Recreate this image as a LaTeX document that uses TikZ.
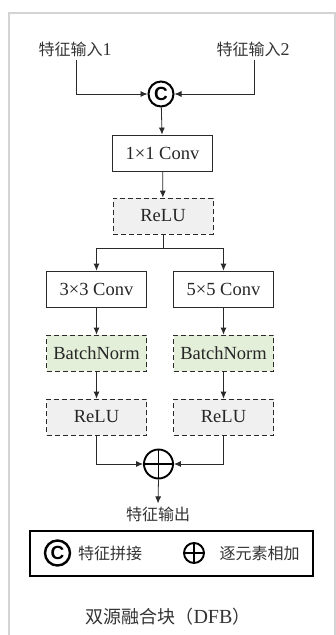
\documentclass[tikz,border=0pt]{standalone}
\usepackage{fontspec}
\setmainfont{Liberation Serif}
\newfontfamily\cjk{Noto Sans CJK SC}
\newfontfamily\symf{Liberation Sans}
\usetikzlibrary{arrows.meta}
\definecolor{framegray}{HTML}{D4D4D4}
\definecolor{linec}{HTML}{2A2A2A}
\definecolor{reluc}{HTML}{F0F0F0}
\definecolor{bnc}{HTML}{E4EFDA}
\begin{document}
\begin{tikzpicture}[x=1pt,y=-1pt,
  box/.style={draw=linec, line width=0.8pt, minimum width=100pt, minimum height=36pt, inner sep=0pt, font=\fontsize{18.5}{20}\selectfont, text=black!85},
  dbox/.style={box, dash pattern=on 5pt off 3pt},
  arr/.style={draw=linec, line width=0.8pt, -{Latex[length=7pt,width=6pt]}},
  ln/.style={draw=linec, line width=0.8pt},
  lab/.style={font=\fontsize{16}{18}\selectfont, text=black!80, inner sep=3pt},
  ccirc/.style={circle, draw=black, line width=2pt, inner sep=0pt, minimum size=#1, font=\symf\bfseries\fontsize{19}{19}\selectfont},
  pcirc/.style={circle, draw=black, line width=1.9pt, inner sep=0pt, minimum size=#1,
    path picture={\draw[line width=1.9pt] (path picture bounding box.north) -- (path picture bounding box.south)
      (path picture bounding box.west) -- (path picture bounding box.east);}}
]
\useasboundingbox (0,0) rectangle (336,635);
\draw[framegray, line width=1.5pt] (9,635) -- (9,13) -- (335,13) -- (335,635);

% inputs
\node[lab] (in1) at (75,49) {{\cjk 特征输入}{\fontsize{18}{18}\selectfont 1}};
\node[lab] (in2) at (253,49) {{\cjk 特征输入}{\fontsize{18}{18}\selectfont 2}};
\node[ccirc=25pt] (cc) at (161,94) {C};
\draw[arr] (in1.south -| 76,0) |- (cc.west);
\draw[arr] (in2.south -| 254,0) |- (cc.east);

% trunk
\node[box] (conv1) at (162.5,153) {1×1 Conv};
\node[dbox, fill=reluc] (relu0) at (163,216) {ReLU};
\draw[arr] (cc) -- (conv1);
\draw[arr] (conv1) -- (relu0);

% branches
\node[box] (conv3) at (96.5,289) {3×3 Conv};
\node[box] (conv5) at (223.5,289) {5×5 Conv};
\node[dbox, fill=bnc] (bn3) at (96.5,353) {BatchNorm};
\node[dbox, fill=bnc] (bn5) at (223.5,353) {BatchNorm};
\node[dbox, fill=reluc] (relu3) at (96.5,417) {ReLU};
\node[dbox, fill=reluc] (relu5) at (223.5,417) {ReLU};
\coordinate (br) at (163,248);
\draw[ln] (relu0.south) -- (br);
\draw[arr] (br) -| (conv3.north);
\draw[arr] (br) -| (conv5.north);
\draw[arr] (conv3) -- (bn3);
\draw[arr] (conv5) -- (bn5);
\draw[arr] (bn3) -- (relu3);
\draw[arr] (bn5) -- (relu5);

% merge
\node[pcirc=29pt] (plus) at (158.5,464) {};
\draw[arr] (relu3.south) |- (plus.west);
\draw[arr] (relu5.south) |- (plus.east);
\node[lab] (out) at (158,514) {\cjk 特征输出};
\draw[arr] (plus.south) -- (out.north);

% legend
\node[draw=black, line width=2pt, minimum width=283pt, minimum height=45pt, inner sep=0pt] (leg) at (171.5,553.5) {};
\node[ccirc=25pt, line width=2.4pt] (lc) at (57.5,553) {C};
\node[lab] (lt1) at (110,553) {\cjk 特征拼接};
\node[pcirc=20pt] (lp) at (194,553) {};
\node[lab] (lt2) at (259.5,553) {\cjk 逐元素相加};

% title
\node[font=\fontsize{18}{20}\selectfont, text=black!80] (title) at (168,617) {{\cjk 双源融合块（}{\fontsize{20}{20}\selectfont DFB}{\cjk ）}};
\end{tikzpicture}
\end{document}
